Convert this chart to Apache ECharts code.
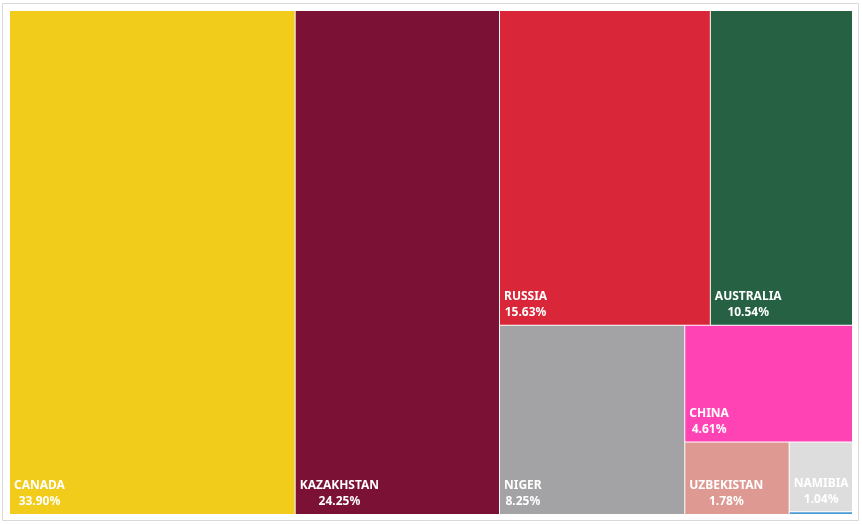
<!DOCTYPE html>
<html>
<head>
<meta charset="utf-8">
<script src="https://cdn.jsdelivr.net/npm/echarts@6/dist/echarts.min.js"></script>
<style>
  html, body { margin: 0; padding: 0; background: #fff; }
  #chart { width: 862px; height: 525px; }
</style>
</head>
<body>
<div id="chart"></div>
<script>
// uranium production share by country (%)
const countries = ['CANADA', 'KAZAKHSTAN', 'RUSSIA', 'AUSTRALIA', 'NIGER', 'CHINA', 'UZBEKISTAN', 'NAMIBIA', 'OTHER'];
const shares = [33.90, 24.25, 15.63, 10.54, 8.25, 4.61, 1.78, 1.04, 0.04];
const colors = ['#F2CC1B', '#7B1235', '#D92638', '#256142', '#A3A3A5', '#FF43B5', '#DE9A92', '#DDDDDD', '#4A9BD5'];

const fontSize = 12;
const fontFamily = 'Noto Sans';

// measure label block so both lines can be centred on each other (like Excel)
const ctx = document.createElement('canvas').getContext('2d');
ctx.font = 'bold ' + fontSize + 'px "' + fontFamily + '"';

function pct(v) {
  return v.toFixed(2) + '%';
}

function leaf(i) {
  const w = Math.max(ctx.measureText(countries[i]).width, ctx.measureText(pct(shares[i])).width);
  return {
    name: countries[i],
    value: shares[i],
    itemStyle: { color: colors[i] },
    label: { show: shares[i] >= 0.5, offset: [w / 2, 5] }
  };
}

function group() {
  return { name: '', children: Array.prototype.slice.call(arguments) };
}

// nesting reproduces the Excel tile arrangement
const treeData = [
  leaf(0),
  leaf(1),
  group(
    group(leaf(2), leaf(3)),
    group(leaf(4), group(leaf(5), group(leaf(6), group(leaf(7), leaf(8)))))
  )
];

const chart = echarts.init(document.getElementById('chart'));
chart.setOption({
  animation: false,
  graphic: [{
    type: 'rect',
    silent: true,
    z: -1,
    shape: { x: 2.5, y: 3.5, width: 856, height: 517 },
    style: { fill: 'none', stroke: '#D9D9D9', lineWidth: 1 }
  }],
  series: [{
    type: 'treemap',
    left: 10,
    top: 11,
    width: 842,
    height: 503,
    roam: false,
    nodeClick: false,
    sort: false,
    squareRatio: 1,
    breadcrumb: { show: false },
    upperLabel: { show: false },
    itemStyle: { borderWidth: 0, gapWidth: 1, borderColor: '#fff' },
    label: {
      show: true,
      position: 'insideBottomLeft',
      distance: 4,
      align: 'center',
      overflow: 'none',
      color: '#fff',
      fontFamily: fontFamily,
      fontWeight: 'bold',
      fontSize: fontSize,
      lineHeight: 16,
      formatter: function (p) {
        return p.name + '\n' + pct(p.value);
      }
    },
    data: treeData
  }]
});
</script>
</body>
</html>
